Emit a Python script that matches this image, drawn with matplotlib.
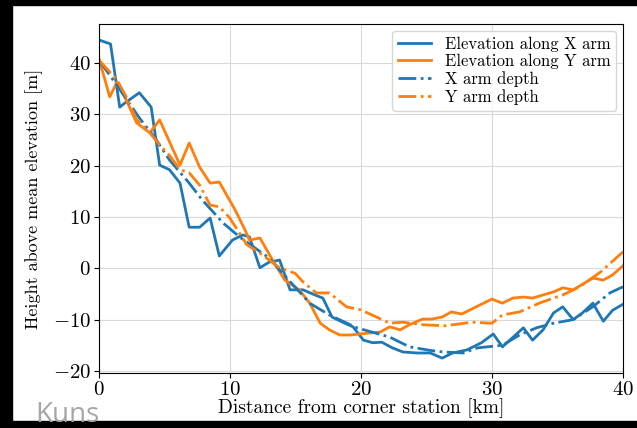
import matplotlib
matplotlib.use("Agg")
import matplotlib.pyplot as plt
from matplotlib.patches import Rectangle

plt.rcParams['font.family'] = ['cmr10', 'DejaVu Serif']
plt.rcParams['mathtext.fontset'] = 'cm'
plt.rcParams['axes.formatter.use_mathtext'] = True

# elevation along the X arm [km, m]
x_elev_d = [0, 0.9, 1.6, 2.1, 3.1, 4.0, 4.65, 5.4, 6.2, 6.9, 7.7, 8.5, 9.2, 10.2, 11.0, 11.5,
            12.3, 13.0, 13.8, 14.6, 15.6, 16.5, 17.1, 17.8, 18.6, 19.4, 20.2, 20.9, 21.6, 22.4,
            23.2, 24.3, 25.3, 26.2, 27.0, 28.1, 29.2, 30.1, 30.8, 32.4, 33.1, 33.9, 34.7, 35.4,
            36.2, 36.9, 37.7, 38.5, 39.2, 40]
x_elev = [44.5, 43.7, 31.4, 32.4, 34.2, 31.4, 20.1, 19.2, 16.6, 8.0, 8.0, 9.8, 2.4, 5.5, 6.5, 6.1,
          0.1, 1.2, 1.6, -4.2, -4.2, -5.2, -5.8, -9.5, -10.5, -11.4, -14.0, -14.5, -14.4, -15.5,
          -16.3, -16.5, -16.5, -17.5, -16.5, -15.9, -14.5, -12.8, -15.3, -11.6, -14.0, -12.0, -8.7, -7.5,
          -10.0, -8.7, -6.8, -10.3, -8.2, -7.0]

# elevation along the Y arm
y_elev_d = [0, 0.84, 1.4, 2.1, 2.9, 3.9, 4.65, 6.2, 6.9, 7.7, 8.5, 9.2, 10.4, 11.1, 11.5, 12.3,
            13.4, 14.2, 15.3, 16.1, 16.9, 17.6, 18.4, 19.2, 19.9, 20.7, 21.5, 22.2, 23.0, 23.7,
            24.7, 25.4, 26.2, 26.9, 27.7, 28.8, 30.0, 30.8, 31.6, 32.4, 33.1, 34.7, 35.4, 36.2,
            37.7, 38.5, 39.2, 40]
y_elev = [41, 33.4, 36.3, 32.8, 28.3, 26.4, 28.9, 20.1, 24.4, 19.7, 16.6, 16.8, 11.4, 7.8, 5.5, 5.9,
          1.0, -2.3, -4.2, -6.8, -10.7, -12.0, -13.0, -13.0, -12.8, -12.6, -12.4, -11.4, -12.0, -11.0,
          -9.9, -9.9, -9.5, -8.5, -8.9, -7.5, -6.0, -6.8, -5.8, -5.6, -5.8, -4.6, -3.8, -4.2,
          -1.9, -2.3, -1.3, 0.5]

# arm depths
x_depth_d = [0, 1.1, 3.1, 4.4, 5.4, 6.9, 7.9, 9.5, 10.8, 13.0, 14.6, 16.1, 17.6, 19.7, 22.2,
             23.7, 25.3, 26.3, 27.8, 28.9, 30.8, 32.1, 33.4, 34.7, 36.2, 37.7, 39.0, 40]
x_depth = [40.6, 36.7, 29.3, 25.0, 21.1, 16.6, 13.3, 8.8, 6.0, 2.0, -2.6, -6.8, -9.1, -11.6, -13.4,
           -15.3, -16.0, -16.3, -16.5, -15.5, -15.0, -13.0, -11.6, -10.7, -10.0, -7.5, -4.8, -3.6]

y_depth_d = [0, 1.4, 2.1, 2.9, 3.9, 4.65, 5.4, 6.2, 6.9, 7.7, 8.5, 9.2, 10.0, 11.3, 12.5, 13.8,
             15.0, 15.6, 16.6, 17.6, 18.9, 20.0, 21.2, 22.2, 23.2, 24.7, 26.4, 28.5, 30.0, 30.8,
             32.1, 33.7, 35.4, 36.7, 38.3, 40]
y_depth = [40.6, 36.7, 33.4, 28.9, 26.4, 24.0, 22.0, 19.2, 18.6, 16.2, 12.3, 12.0, 9.8, 4.6, 2.6, 0.1,
           -1.0, -2.7, -4.8, -4.8, -7.5, -8.1, -9.5, -10.7, -10.5, -11.0, -11.2, -10.5, -10.7, -9.1,
           -8.5, -6.7, -5.2, -3.6, -0.7, 3.2]

fig = plt.figure(figsize=(6.37, 4.28), dpi=100)
ax = fig.add_axes([0.155, 0.1285, 0.823, 0.8155])

lw = 2.0
ax.plot(x_elev_d, x_elev, color='#1f77b4', lw=lw, label='Elevation along X arm')
ax.plot(y_elev_d, y_elev, color='#ff7f0e', lw=lw, label='Elevation along Y arm')
ax.plot(x_depth_d, x_depth, color='#1f77b4', lw=lw, ls='-.', label='X arm depth')
ax.plot(y_depth_d, y_depth, color='#ff7f0e', lw=lw, ls='-.', label='Y arm depth')

ax.set_xlim(0, 40)
ax.set_ylim(-20.4, 47.6)
ax.set_xticks([0, 10, 20, 30, 40])
ax.set_yticks([-20, -10, 0, 10, 20, 30, 40])
ax.tick_params(labelsize=15, pad=2)
ax.grid(True, color='#d9d9d9', lw=0.8)
ax.set_axisbelow(True)
ax.set_xlabel('Distance from corner station [km]', fontsize=14, labelpad=0)
ax.set_ylabel('Height above mean elevation [m]', fontsize=13, labelpad=7)
ax.legend(loc='upper right', fontsize=12, handlelength=2.0, labelspacing=0.12,
          borderpad=0.35, framealpha=0.8, borderaxespad=0.4)

# black frame bits and the watermark from the screenshot
for r in [(0, 0.988, 1, 0.012), (0, 0, 0.019, 1), (0, 0, 1, 0.016)]:
    fig.add_artist(Rectangle(r[:2], r[2], r[3], transform=fig.transFigure,
                             color='black', zorder=10))
fig.text(0.055, 0.014, 'Kuns', fontsize=20, color='#a6a6a6', family='Open Sans', zorder=11)

fig.savefig('out.png', dpi=100)
